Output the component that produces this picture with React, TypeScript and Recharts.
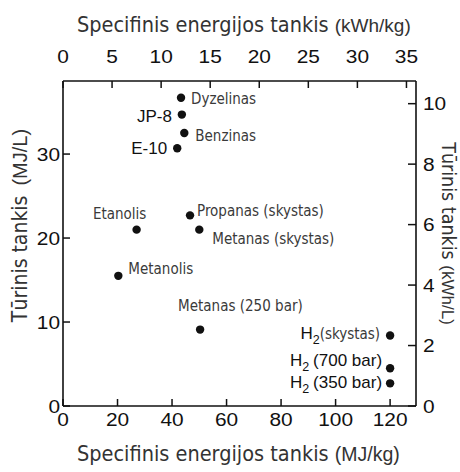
import { ScatterChart, Scatter, XAxis, YAxis, Label } from "recharts";

// fuels: specific energy (MJ/kg) vs volumetric energy (MJ/L)
const fuels = [
  "Dyzelinas", "JP-8", "Benzinas", "E-10", "Etanolis", "Propanas (skystas)",
  "Metanas (skystas)", "Metanolis", "Metanas (250 bar)", "H2 (skystas)", "H2 (700 bar)", "H2 (350 bar)",
];
const specificMJkg = [43.3, 43.6, 44.5, 41.9, 27.0, 46.6, 50.0, 20.3, 50.3, 120, 120, 120];
const volumetricMJL = [36.7, 34.7, 32.5, 30.7, 21.0, 22.7, 21.0, 15.5, 9.1, 8.4, 4.5, 2.7];

const mjkgTicks = [0, 20, 40, 60, 80, 100, 120];
const kwhkgTicks = [0, 5, 10, 15, 20, 25, 30, 35];
const mjlTicks = [0, 10, 20, 30];
const kwhlTicks = [0, 2, 4, 6, 8, 10];

const KWH = 3.6; // MJ per kWh
const X_MAX = 129.5;
const Y_MAX = 38.7;

const W = 460, H = 472;
const PL = 63, PR = 44, PT = 81, PB = 66;

const ARIAL = "'Liberation Sans', Arial, sans-serif";
const TAHOMA = "'DejaVu Sans Condensed', 'DejaVu Sans', sans-serif";
const INK = "#111";

// label placement around each dot (presentation only)
const labelPos: Record<string, { dx: number; dy: number; anchor: "start" | "end" | "middle" }> = {
  "Dyzelinas": { dx: 10, dy: 6, anchor: "start" },
  "JP-8": { dx: -10, dy: 7, anchor: "end" },
  "Benzinas": { dx: 11, dy: 8, anchor: "start" },
  "E-10": { dx: -10, dy: 6, anchor: "end" },
  "Etanolis": { dx: -17, dy: -11, anchor: "middle" },
  "Propanas (skystas)": { dx: 7, dy: 1, anchor: "start" },
  "Metanas (skystas)": { dx: 13, dy: 14, anchor: "start" },
  "Metanolis": { dx: 10, dy: -2, anchor: "start" },
  "Metanas (250 bar)": { dx: -22, dy: -19, anchor: "start" },
  "H2 (skystas)": { dx: -10, dy: 4, anchor: "end" },
  "H2 (700 bar)": { dx: -8, dy: -2, anchor: "end" },
  "H2 (350 bar)": { dx: -8, dy: 5, anchor: "end" },
};

const rows = fuels.map((name, i) => ({
  name, x: specificMJkg[i], y: volumetricMJL[i],
  xk: specificMJkg[i] / KWH, yk: volumetricMJL[i] / KWH,
}));

function Num({ x, y, anchor, children }: any) {
  return (
    <text transform={`translate(${x},${y}) scale(1.13,1)`} textAnchor={anchor}
      fontFamily={ARIAL} fontSize={18.5} fill={INK}>{children}</text>
  );
}

const BottomTick = ({ x, y, payload }: any) => (
  <g>
    <line x1={x} x2={x} y1={y} y2={y - 7} stroke={INK} strokeWidth={1.5} />
    <Num x={x} y={y + 20} anchor="middle">{payload.value}</Num>
  </g>
);
const TopTick = ({ x, y, payload }: any) => (
  <g>
    <line x1={x} x2={x} y1={y} y2={y + 7} stroke={INK} strokeWidth={1.5} />
    <Num x={x} y={y - 18} anchor="middle">{payload.value}</Num>
  </g>
);
const LeftTick = ({ x, y, payload }: any) => (
  <g>
    <line x1={x} x2={x + 7} y1={y} y2={y} stroke={INK} strokeWidth={1.5} />
    <Num x={x - 3} y={y + 6.5} anchor="end">{payload.value}</Num>
  </g>
);
const RightTick = ({ x, y, payload }: any) => (
  <g>
    <line x1={x} x2={x - 8} y1={y} y2={y} stroke={INK} strokeWidth={1.5} />
    <Num x={x + 7} y={y + 6.5} anchor="start">{payload.value}</Num>
  </g>
);

function FuelLabel({ name, x, y, anchor }: any) {
  if (name.startsWith("H2")) {
    const rest = name.slice(3);
    const liquid = rest === "(skystas)";
    return (
      <text x={x} y={y} textAnchor={anchor} fill={INK} fontFamily={ARIAL} fontSize={17}>
        <tspan>H</tspan>
        <tspan fontSize={12.5} dy={5}>2</tspan>
        {liquid
          ? <tspan dy={-5} fontFamily={TAHOMA} fontSize={15} fill="#3a3a3a">{rest}</tspan>
          : <tspan dy={-5} dx={4}>{rest}</tspan>}
      </text>
    );
  }
  if (name === "JP-8" || name === "E-10") {
    return <text x={x} y={y} textAnchor={anchor} fill={INK} fontFamily={ARIAL} fontSize={17}>{name}</text>;
  }
  return <text x={x} y={y} textAnchor={anchor} fill="#3a3a3a" fontFamily={TAHOMA} fontSize={15}>{name}</text>;
}

function FuelDot({ cx, cy, payload }: any) {
  const p = labelPos[payload.name];
  return (
    <g>
      <circle cx={cx} cy={cy} r={4.2} fill={INK} />
      <FuelLabel name={payload.name} x={cx + p.dx} y={cy + p.dy} anchor={p.anchor} />
    </g>
  );
}

const TopTitle = () => (
  <text x={PL + 14} y={31.5} fill="#333">
    <tspan fontFamily={TAHOMA} fontSize={21.5}>Specifinis energijos tankis </tspan>
    <tspan fontFamily={ARIAL} fontSize={19}>(kWh/kg)</tspan>
  </text>
);
const BottomTitle = () => (
  <text x={PL + 14} y={H - 11} fill="#333">
    <tspan fontFamily={TAHOMA} fontSize={21.5}>Specifinis energijos tankis </tspan>
    <tspan fontFamily={ARIAL} fontSize={19.5}>(MJ/kg)</tspan>
  </text>
);
const LeftTitle = () => (
  <text transform={`translate(27,${PT + 144.5}) rotate(-90)`} textAnchor="middle" fill="#333">
    <tspan fontFamily={TAHOMA} fontSize={21}>Tūrinis tankis</tspan>
    <tspan dx={10} fontFamily={ARIAL} fontSize={20}>(MJ/L)</tspan>
  </text>
);
const RightTitle = () => (
  <text transform={`translate(${W - PR + 26},${PT + 152.5}) rotate(90)`} textAnchor="middle" fill="#333">
    <tspan fontFamily={TAHOMA} fontSize={19.5}>Tūrinis tankis </tspan>
    <tspan fontFamily={ARIAL} fontSize={17}>(kWh/L)</tspan>
  </text>
);

const axisLine = { stroke: INK, strokeWidth: 1.6 };

export default function App() {
  return (
    <div style={{ position: "absolute", left: 0, top: 0, width: W, height: H, background: "#fff" }}>
      <ScatterChart width={W} height={H} margin={{ top: 0, right: 0, bottom: 0, left: 0 }}>
        <XAxis xAxisId="b" type="number" dataKey="x" orientation="bottom" domain={[0, X_MAX]}
          ticks={mjkgTicks} interval={0} height={PB} allowDataOverflow axisLine={axisLine}
          tickLine={false} tickSize={0} tickMargin={0} tick={BottomTick}>
          <Label content={() => <BottomTitle />} />
        </XAxis>
        <XAxis xAxisId="t" type="number" dataKey="xk" orientation="top" domain={[0, X_MAX / KWH]}
          ticks={kwhkgTicks} interval={0} height={PT} allowDataOverflow axisLine={axisLine}
          tickLine={false} tickSize={0} tickMargin={0} tick={TopTick}>
          <Label content={() => <TopTitle />} />
        </XAxis>
        <YAxis yAxisId="l" type="number" dataKey="y" orientation="left" domain={[0, Y_MAX]}
          ticks={mjlTicks} interval={0} width={PL} allowDataOverflow axisLine={axisLine}
          tickLine={false} tickSize={0} tickMargin={0} tick={LeftTick}>
          <Label content={() => <LeftTitle />} />
        </YAxis>
        <YAxis yAxisId="r" type="number" dataKey="yk" orientation="right" domain={[0, Y_MAX / KWH]}
          ticks={kwhlTicks} interval={0} width={PR} allowDataOverflow axisLine={axisLine}
          tickLine={false} tickSize={0} tickMargin={0} tick={RightTick}>
          <Label content={() => <RightTitle />} />
        </YAxis>
        {/* same fuels in kWh units, drawn invisibly so the top/right scales exist */}
        <Scatter xAxisId="t" yAxisId="r" data={rows} dataKey="yk" isAnimationActive={false}
          shape={() => <g />} />
        <Scatter xAxisId="b" yAxisId="l" data={rows} dataKey="y" isAnimationActive={false}
          shape={(p: any) => <FuelDot {...p} />} />
      </ScatterChart>
    </div>
  );
}
